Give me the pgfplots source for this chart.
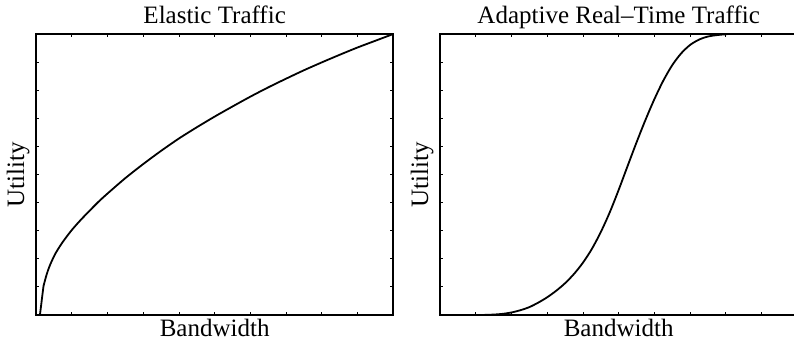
\documentclass[border=0pt]{standalone}
\usepackage{fontspec}
\setmainfont{Liberation Serif}
\usepackage{pgfplots}
\pgfplotsset{compat=1.18}
\begin{document}
\fontsize{12.5}{15}\selectfont
\begin{tikzpicture}
\path[use as bounding box] (0,0) rectangle (397pt,170pt);
\pgfplotsset{
  myax/.style={
    scale only axis, width=178.65pt, height=140.5pt,
    xmin=0, xmax=10, ymin=0, ymax=10,
    xtick={0,...,10}, ytick={0,...,10},
    xticklabels={}, yticklabels={},
    tick align=inside, major tick length=1.6pt,
    tick style={black, line width=0.4pt},
    axis line style={line width=0.9pt},
    xlabel={Bandwidth}, ylabel={Utility},
    xlabel style={at={(axis description cs:0.5,-0.078)}, anchor=base},
    ylabel style={at={(axis description cs:-0.05,0.5)}, anchor=center},
    every axis title shift=0pt,
    title style={at={(axis description cs:0.5,1.039)}, anchor=base, yshift=0pt},
    anchor=south west,
  }
}
\begin{axis}[myax, at={(18pt,12.5pt)}, title={Elastic Traffic}]
\addplot[black, line width=0.9pt] coordinates {(0.11,0) (0.21,1.03)};
\addplot[black, line width=0.9pt, smooth, tension=0.5] coordinates {
(0.21,1.03) (0.3,1.45) (0.4,1.80) (0.55,2.2) (0.75,2.6) (1.0,3.02) (1.25,3.38)
(1.5,3.71) (1.75,4.03) (2.0,4.32) (2.5,4.87) (3.0,5.37) (3.5,5.84) (4.0,6.28)
(4.5,6.68) (5.0,7.06) (5.5,7.42) (6.0,7.77) (6.5,8.1) (7.0,8.41) (7.5,8.71)
(8.0,8.99) (8.5,9.26) (9.0,9.52) (9.5,9.76) (10,10)};
\end{axis}
\begin{axis}[myax, at={(220pt,12.5pt)}, title={Adaptive Real–Time Traffic}]
\addplot[black, line width=0.9pt, smooth, tension=0.5] coordinates {
(0,0) (1.0,0) (1.25,0.003) (1.5,0.015) (1.75,0.04) (2.0,0.09) (2.25,0.17)
(2.5,0.28) (2.75,0.44) (3.0,0.63) (3.25,0.86) (3.5,1.13) (3.75,1.46) (4.0,1.86)
(4.25,2.35) (4.5,2.95) (4.75,3.65) (5.0,4.45) (5.25,5.30) (5.5,6.14)
(5.75,6.94) (6.0,7.68) (6.25,8.34) (6.5,8.89) (6.75,9.31) (7.0,9.61)
(7.25,9.80) (7.5,9.91) (7.75,9.96) (8.0,9.99) (8.25,10) (10,10)};
\end{axis}
\end{tikzpicture}
\end{document}
